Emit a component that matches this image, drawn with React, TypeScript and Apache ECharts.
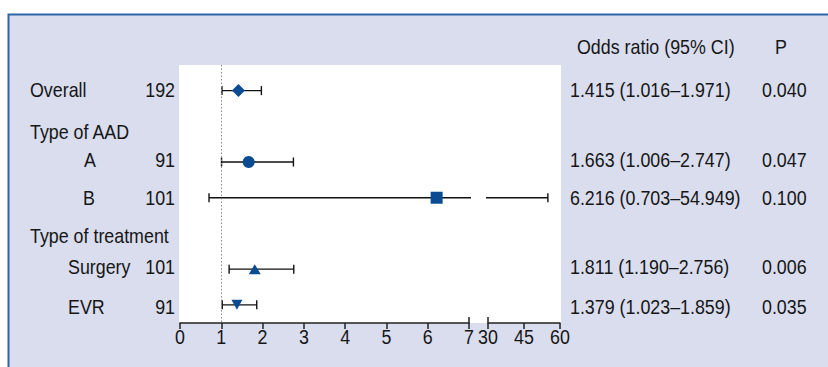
import React, { useEffect, useRef } from "react";
import * as echarts from "echarts";

// ---- data ----
const rowLabels = ["Overall", "Type of AAD", "A", "B", "Type of treatment", "Surgery", "EVR"];
const counts: (number | null)[] = [192, null, 91, 101, null, 101, 91];
const oddsRatio: (number | null)[] = [1.415, null, 1.663, 6.216, null, 1.811, 1.379];
const ciLow: (number | null)[] = [1.016, null, 1.006, 0.703, null, 1.19, 1.023];
const ciHigh: (number | null)[] = [1.971, null, 2.747, 54.949, null, 2.756, 1.859];
const pValues: (string | null)[] = ["0.040", null, "0.047", "0.100", null, "0.006", "0.035"];
const lowTickLabels = [0, 1, 2, 3, 4, 5, 6, 7];
const highTickLabels = [30, 45, 60];

// ---- styles ----
const FONT = "'Liberation Sans', Arial, sans-serif";
const FS = 21;
const SX = 0.85;
const TXT = "#161616";
const MARK = "#0a4b92";
const rowIndent = [30, 30, 84, 83, 30, 68, 68];
const textNudge = [-1, 5, -3, 0, 2, -3, 2];
const rowSymbol: Record<number, { symbol: string; size: number[]; rotate?: number }> = {
  0: { symbol: "diamond", size: [13, 13] },
  2: { symbol: "circle", size: [12, 12] },
  3: { symbol: "rect", size: [12, 12] },
  5: { symbol: "triangle", size: [12, 10] },
  6: { symbol: "triangle", size: [11, 10], rotate: 180 },
};

const fmt = (v: number) => v.toFixed(3);

const txt = (text: string, x: number, y: number, align: string = "left") => ({
  type: "text",
  x,
  y,
  scaleX: SX,
  silent: true,
  style: { text, x: 0, y: 0, align, verticalAlign: "middle", fill: TXT, fontSize: FS, fontFamily: FONT },
});

export default function App() {
  const ref = useRef<HTMLDivElement>(null);
  useEffect(() => {
    if (!ref.current) return;
    const chart = echarts.init(ref.current, undefined, { renderer: "svg" });

    const rowIdx = rowLabels.map((_, i) => i);
    const plotted = rowIdx.filter((i) => oddsRatio[i] != null);
    const errData = plotted.map((i) => [ciLow[i], ciHigh[i], i]);

    const lowMin = lowTickLabels[0];
    const lowMax = lowTickLabels[lowTickLabels.length - 1];
    const highMin = highTickLabels[0];
    const highMax = highTickLabels[highTickLabels.length - 1];

    const makeErr = (grid: number, lo: number, hi: number) => ({
      type: "custom",
      xAxisIndex: grid,
      yAxisIndex: grid,
      clip: false,
      silent: true,
      z: 3,
      data: errData,
      renderItem: (params: any, api: any) => {
        const a = api.value(0);
        const b = api.value(1);
        const r = api.value(2);
        if (b < lo || a > hi) return null;
        const y = api.coord([lo, r])[1];
        const startCap = a >= lo;
        const endCap = b <= hi;
        const x1 = startCap ? api.coord([a, r])[0] : api.coord([lo, r])[0] - 2;
        const x2 = endCap ? api.coord([b, r])[0] : api.coord([hi, r])[0] + 2;
        const ls = { stroke: "#111", lineWidth: 1.4 };
        const children: any[] = [{ type: "line", shape: { x1, y1: y, x2, y2: y }, style: ls }];
        if (startCap) children.push({ type: "line", shape: { x1, y1: y - 4.5, x2: x1, y2: y + 4.5 }, style: ls });
        if (endCap) children.push({ type: "line", shape: { x1: x2, y1: y - 4.5, x2, y2: y + 4.5 }, style: ls });
        return { type: "group", children };
      },
    });

    const makeAxisLabels = (grid: number, values: number[], breakValue: number) => ({
      type: "custom",
      xAxisIndex: grid,
      yAxisIndex: grid,
      clip: false,
      silent: true,
      z: 4,
      data: values.map((v) => [v, 0]),
      renderItem: (params: any, api: any) => {
        const v = api.value(0);
        const x = api.coord([v, 0])[0];
        const cs = params.coordSys;
        const yb = cs.y + cs.height;
        const children: any[] = [txt(String(v), x, yb + 13.5, "center")];
        if (v === breakValue) {
          children.push({
            type: "line",
            shape: { x1: x, y1: yb - 6, x2: x, y2: yb },
            style: { stroke: "#222", lineWidth: 1.5 },
          });
        }
        return { type: "group", children };
      },
    });

    const textSeries = {
      type: "custom",
      xAxisIndex: 0,
      yAxisIndex: 0,
      clip: false,
      silent: true,
      data: rowIdx.map((i) => [0, i]),
      renderItem: (params: any, api: any) => {
        const i = params.dataIndex;
        const y = api.coord([0, i])[1] + textNudge[i];
        const ch: any[] = [txt(rowLabels[i], rowIndent[i], y)];
        if (counts[i] != null) {
          ch.push(txt(String(counts[i]), 175, y, "right"));
          ch.push(
            txt(
              `${fmt(oddsRatio[i] as number)} (${fmt(ciLow[i] as number)}–${fmt(ciHigh[i] as number)})`,
              570,
              y,
            ),
          );
          ch.push(txt(pValues[i] as string, 762, y));
        }
        return { type: "group", children: ch };
      },
    };

    const yAxisBase = { type: "value", inverse: true, min: -0.717, max: 6.508, show: false };
    const axisLine = { show: true, onZero: false, lineStyle: { color: "#222", width: 1.5 } };
    const axisTick = { show: true, length: 6, lineStyle: { color: "#222", width: 1.5 } };

    chart.setOption({
      animation: false,
      backgroundColor: "#ffffff",
      graphic: [
        {
          type: "rect",
          z: -20,
          shape: { x: 8.5, y: 14.5, width: 840, height: 370 },
          style: { fill: "#d9ddee", stroke: "#2f65a8", lineWidth: 2 },
        },
        {
          type: "rect",
          z: -10,
          shape: { x: 179, y: 65, width: 382, height: 258 },
          style: { fill: "#ffffff" },
        },
        txt("Odds ratio (95% CI)", 577, 46),
        txt("P", 781, 46, "center"),
      ],
      grid: [
        { left: 180, top: 65, width: 289, height: 258, show: false },
        { left: 488, top: 65, width: 72, height: 258, show: false },
      ],
      xAxis: [
        {
          gridIndex: 0, type: "value", position: "bottom", min: lowMin, max: lowMax, interval: 1,
          axisLine, axisTick, axisLabel: { show: false }, splitLine: { show: false },
        },
        {
          gridIndex: 1, type: "value", position: "bottom", min: highMin, max: highMax, interval: 15,
          axisLine, axisTick, axisLabel: { show: false }, splitLine: { show: false },
        },
      ],
      yAxis: [
        { ...yAxisBase, gridIndex: 0 },
        { ...yAxisBase, gridIndex: 1 },
      ],
      series: [
        {
          type: "scatter",
          xAxisIndex: 0,
          yAxisIndex: 0,
          z: 5,
          silent: true,
          data: plotted.map((i) => ({
            value: [oddsRatio[i], i],
            symbol: rowSymbol[i].symbol,
            symbolSize: rowSymbol[i].size,
            symbolRotate: rowSymbol[i].rotate || 0,
          })),
          itemStyle: { color: MARK, opacity: 1 },
          markLine: {
            silent: true,
            symbol: "none",
            label: { show: false },
            lineStyle: { type: [1.5, 2], color: "#8a8a8a", width: 1 },
            data: [{ xAxis: 1 }],
          },
        },
        makeErr(0, lowMin, lowMax),
        makeErr(1, highMin, highMax),
        makeAxisLabels(0, lowTickLabels, lowMax),
        makeAxisLabels(1, highTickLabels, highMin),
        textSeries,
      ],
    });
    return () => chart.dispose();
  }, []);
  return <div ref={ref} style={{ position: "absolute", left: 0, top: 0, width: 828, height: 367 }} />;
}
